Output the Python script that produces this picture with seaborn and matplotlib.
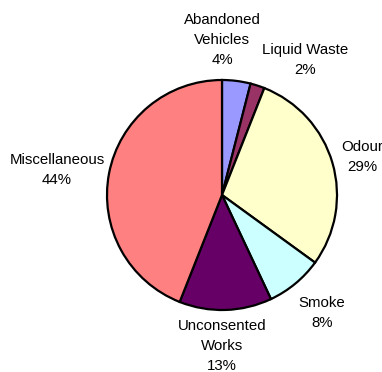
import numpy as np
import matplotlib
matplotlib.use("Agg")
import matplotlib.pyplot as plt
import seaborn as sns

# Complaint categories, clockwise from 12 o'clock
categories = ["Abandoned\nVehicles", "Liquid Waste", "Odour", "Smoke",
              "Unconsented\nWorks", "Miscellaneous"]
shares = [4, 2, 29, 8, 13, 44]
colors = ["#9999FF", "#993366", "#FFFFCC", "#CCFFFF", "#660066", "#FF8080"]

# label placement: distance from centre (in radii) and angle nudge (degrees)
label_dist = [1.35, 1.38, 1.26, 1.345, 1.313, 1.45]
label_nudge = [7.2, -13.6, -1, 0.7, -1.8, 2.2]

sns.set_style("white")
plt.rcParams["font.family"] = ["Liberation Sans", "DejaVu Sans"]

fig = plt.figure(figsize=(3.82, 3.72), dpi=100)
cx, cy, r = 222, 195, 115
W, H = 382, 372
ax = fig.add_axes([(cx - r) / W, (H - cy - r) / H, 2 * r / W, 2 * r / H])

wedges, _ = ax.pie(shares, colors=colors, startangle=90, counterclock=False,
                   radius=1.0,
                   wedgeprops=dict(edgecolor="black", linewidth=1.6))

total = sum(shares)
for w, cat, val, d, nud in zip(wedges, categories, shares, label_dist, label_nudge):
    ang = np.deg2rad((w.theta1 + w.theta2) / 2 + nud)
    ax.text(d * np.cos(ang), d * np.sin(ang), f"{cat}\n{val / total * 100:.0f}%",
            ha="center", va="center", fontsize=10.8, linespacing=1.55,
            color="black")

ax.set_xlim(-1, 1)
ax.set_ylim(-1, 1)
ax.set_aspect("equal")
ax.axis("off")

fig.savefig("out.png", dpi=100, facecolor="white")
